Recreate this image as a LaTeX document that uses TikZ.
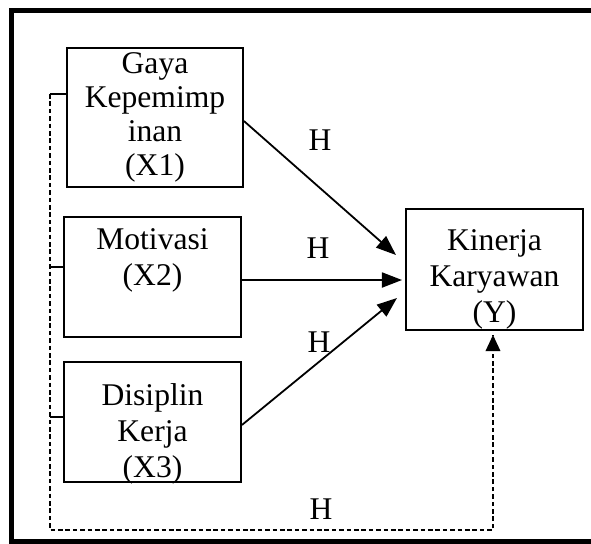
\documentclass[tikz,border=0pt]{standalone}
\usepackage{fontspec}
\setmainfont{Liberation Serif}
\usepackage{tikz}
\usetikzlibrary{arrows.meta, positioning, calc}

\tikzset{
  varbox/.style={draw, line width=0.9pt, inner sep=0pt},
  vartext/.style={anchor=base, align=center, inner sep=0pt, font=\fontsize{15.8}{18}\selectfont},
  hyplabel/.style={inner sep=0pt, font=\fontsize{15.8}{18}\selectfont},
  effect/.style={line width=0.9pt, -{Triangle[length=10pt, width=7.5pt]}},
  joint/.style={line width=0.85pt, dash pattern=on 2.3pt off 1.4pt}
}

\begin{document}
\begin{tikzpicture}[x=0.5pt, y=-0.5pt]
  \useasboundingbox (0,0) rectangle (591,543);
  % outer frame (open on the right)
  \draw[line width=2.5pt] (591,10) -- (12,10) -- (12,541) -- (591,541);

  % variable boxes
  \node[varbox, minimum width=88pt, minimum height=69.5pt] (x1) at (155,117.5) {};
  \node[varbox, minimum width=88.5pt, minimum height=60pt] (x2) at (152.5,277) {};
  \node[varbox, minimum width=88.5pt, minimum height=60pt] (x3) at (152.5,422) {};
  \node[varbox, minimum width=88.5pt, minimum height=60.5pt] (y) at (494.5,269.5) {};

  % texts sit on the baseline of their last line
  \node[vartext, font=\fontsize{15.8}{17}\selectfont] (x1text) at (155,175) {Gaya\\Kepemimp\\inan\\(X1)};
  \node[vartext] (x2text) at (152.5,285) {Motivasi\\(X2)};
  \node[vartext] (x3text) at (152.5,477) {Disiplin\\Kerja\\(X3)};
  \node[vartext] (ytext) at (494.5,322) {Kinerja\\Karyawan\\(Y)};

  % partial effects
  \coordinate (in1) at (396,255);
  \coordinate (in2) at (402,280);
  \coordinate (in3) at (397,298);
  \draw[effect] (x1.east |- 0,121) -- (in1);
  \draw[effect] (x2.east |- in2) -- (in2);
  \draw[effect] (x3.east |- 0,425) -- (in3);

  \node[hyplabel] (h1) at (320,140) {H};
  \node[hyplabel] (h2) at (318,248) {H};
  \node[hyplabel] (h3) at (319,342) {H};

  % simultaneous effect
  \coordinate (side) at (50,94);
  \coordinate (corner) at (50,530);
  \coordinate (in4) at (493,335);
  \draw[line width=0.9pt] (side) -- (x1.west |- side);
  \draw[line width=0.9pt] (side |- 0,267) -- (x2.west |- 0,267);
  \draw[line width=0.9pt] (side |- 0,417) -- (x3.west |- 0,417);
  \draw[joint] (side) -- (corner) -- (corner -| in4) -- (in4);
  \fill (in4) -- ++(-7.5,16) -- ++(15,0) -- cycle;
  \node[hyplabel] (h4) at (321,509) {H};
\end{tikzpicture}
\end{document}
